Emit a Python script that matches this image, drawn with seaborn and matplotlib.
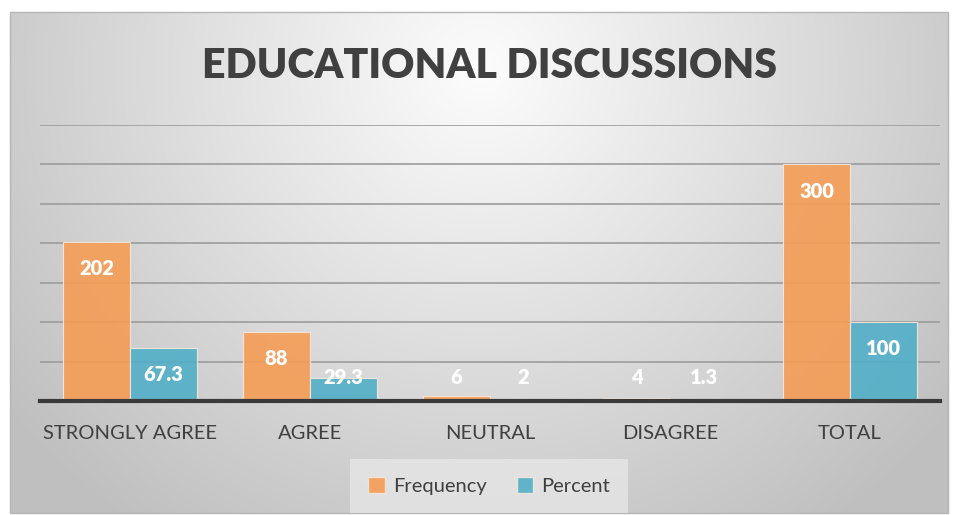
import numpy as np
import pandas as pd
import matplotlib
matplotlib.use("Agg")
import matplotlib.pyplot as plt
import seaborn as sns
from matplotlib.patches import Rectangle, Patch

categories = ["STRONGLY AGREE", "AGREE", "NEUTRAL", "DISAGREE", "TOTAL"]
frequency = [202, 88, 6, 4, 300]
percent = [67.3, 29.3, 2, 1.3, 100]
label_freq = ["202", "88", "6", "4", "300"]
label_pct = ["67.3", "29.3", "2", "1.3", "100"]
series = ["Frequency", "Percent"]
colors = ["#F59D55", "#52AFC8"]

df = pd.DataFrame({
    "cat": categories * 2,
    "value": frequency + percent,
    "series": [series[0]] * len(categories) + [series[1]] * len(categories),
})

sns.set_theme(style="white")
plt.rcParams['font.family'] = ['Lato', 'DejaVu Sans']

W, H = 957, 515
fig = plt.figure(figsize=(W / 100, H / 100), dpi=100)
fig.patch.set_facecolor("white")

# background gradient
bg = fig.add_axes([0, 0, 1, 1], zorder=-10)
yy, xx = np.mgrid[0:H, 0:W]
d = np.sqrt(((xx - 480) / 600.0) ** 2 + ((yy - 70) / 560.0) ** 2)
g = np.clip(0.99 - 0.24 * d, 0.75, 1.0)
img = np.dstack([g, g, g])
x0, y0, x1, y1 = 10, 12, 948, 513
img[:y0, :, :] = 1
img[y1:, :, :] = 1
img[:, :x0, :] = 1
img[:, x1:, :] = 1
bg.imshow(img, extent=[0, W, H, 0], aspect="auto", interpolation="bilinear")
bg.add_patch(Rectangle((x0, y0), x1 - x0, y1 - y0, fill=False, edgecolor="#b5b5b5", lw=1))
bg.set_xlim(0, W)
bg.set_ylim(H, 0)
bg.axis("off")

ax = fig.add_axes([40 / W, 1 - 401 / H, 900 / W, (401 - 125) / H])
ax.patch.set_alpha(0)
sns.barplot(data=df, x="cat", y="value", hue="series", palette=colors, saturation=1,
            width=0.745, gap=0, ax=ax, legend=False, alpha=0.9,
            edgecolor="#f7e9dd", linewidth=0.8, zorder=3)
ax.set_ylim(0, 350)
ax.set_xlim(-0.5, 4.5)
ax.set_yticks(np.arange(0, 351, 50))
ax.yaxis.grid(True, color="#9c9c9c", lw=1.2, zorder=0)
ax.set_axisbelow(True)
ax.tick_params(axis="y", left=False, labelleft=False)
ax.tick_params(axis="x", bottom=False, labelsize=14.5, labelcolor="#404040", pad=11)
for s in ["top", "right", "left"]:
    ax.spines[s].set_visible(False)
ax.spines["bottom"].set_color("#3a3a3a")
ax.spines["bottom"].set_linewidth(3)
ax.spines["bottom"].set_zorder(5)
ax.set_xlabel("")
ax.set_ylabel("")

# data labels
labels_all = label_freq + label_pct
for p, lab in zip(ax.patches, labels_all):
    h = p.get_height()
    xc = p.get_x() + p.get_width() / 2
    yl = max(h - 34, 30)
    ax.text(xc, yl, lab, ha="center", va="center", color="white",
            fontsize=14.5, fontweight="heavy", zorder=6)

fig.text(490 / W, 1 - 66 / H, "EDUCATIONAL DISCUSSIONS", ha="center", va="center",
         fontsize=29.5, fontweight="heavy", color="#404040")

handles = [Patch(facecolor=c, edgecolor="#f5e6da", alpha=0.9) for c in colors]
leg = fig.legend(handles, series, loc="center", bbox_to_anchor=(489 / W, 1 - 486 / H),
                 ncol=2, frameon=True, fontsize=14.5, handlelength=0.8, handleheight=0.8,
                 handletextpad=0.4, columnspacing=1.5, borderpad=0.6)
leg.get_frame().set_facecolor("#e6e6e6")
leg.get_frame().set_edgecolor("none")
leg.get_frame().set_boxstyle("square")
for t in leg.get_texts():
    t.set_color("#404040")

fig.savefig("out.png", dpi=100)
